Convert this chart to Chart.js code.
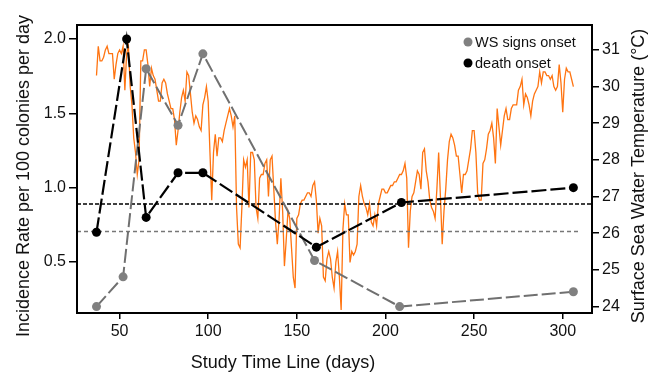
<!DOCTYPE html>
<html>
<head>
<meta charset="utf-8">
<script src="https://cdn.jsdelivr.net/npm/chart.js@4/dist/chart.umd.min.js"></script>
<style>
  html, body { margin: 0; padding: 0; background: #fff; }
</style>
</head>
<body>
<canvas id="wsChart" width="650" height="377"></canvas>
<script>
// incidence points (left axis)
const wsDays = [37, 52, 65, 83, 97, 160, 208, 306];
const wsRate = [0.2, 0.4, 1.8, 1.42, 1.9, 0.51, 0.2, 0.3];
const deathDays = [37, 54, 65, 83, 97, 161, 209, 306];
const deathRate = [0.7, 2.0, 0.8, 1.1, 1.1, 0.6, 0.9, 1.0];

// the two dotted reference levels
const refBlack = 0.89;
const refGray = 0.705;

// daily surface sea water temperature (right axis), one value per day from day 37
const sstStartDay = 37;
const sstValues = [
  30.3, 31.1, 30.7, 30.7, 30.8, 31.0, 31.1, 30.9, 30.9, 30.9,
  30.2, 30.6, 30.9, 31.0, 30.9, 31.1, 29.9, 30.9, 31.1, 30.0,
  29.5, 28.6, 28.2, 27.6, 28.0, 30.7, 30.7, 31.0, 31.0, 30.6,
  30.0, 30.5, 30.3, 30.2, 29.9, 29.6, 29.6, 30.1, 30.2, 30.1,
  29.8, 29.6, 29.4, 29.4, 29.1, 28.4, 28.8, 29.3, 29.7, 29.9,
  29.6, 30.4, 30.3, 29.8, 29.3, 29.0, 29.2, 29.1, 28.9, 28.8,
  29.5, 29.7, 30.0, 29.6, 28.2, 26.9, 28.2, 28.7, 28.1, 28.6,
  28.6, 28.5, 28.8, 29.0, 29.2, 29.4, 29.2, 28.9, 29.2, 26.7,
  25.7, 25.6, 26.7, 28.0, 27.8, 28.0, 26.7, 28.2, 28.2, 28.0,
  26.7, 26.4, 27.5, 27.6, 27.6, 27.9, 28.0, 27.0, 28.0, 28.1,
  27.2, 26.3, 25.7, 26.4, 27.5, 26.6, 25.1, 25.8, 26.6, 26.4,
  25.6, 24.8, 24.5, 26.4, 26.5, 26.8, 26.9, 26.9, 27.0, 27.1,
  27.1, 27.0, 27.3, 27.4, 26.9, 26.0, 26.4, 26.2, 24.8, 24.7,
  25.3, 25.5, 25.3, 24.8, 24.5, 25.2, 25.5, 24.8, 23.9, 26.1,
  26.8, 26.5, 26.5, 25.2, 25.5, 25.4, 25.5, 25.7, 27.0, 27.3,
  27.0, 26.8, 26.7, 26.5, 26.8, 26.3, 26.2, 26.5, 26.2, 26.8,
  27.0, 27.2, 27.2, 27.1, 27.1, 27.2, 27.3, 27.3, 27.4, 27.4,
  27.5, 27.6, 27.6, 27.7, 27.9, 27.5, 25.6, 26.6, 27.0, 27.1,
  27.4, 27.7, 27.6, 27.2, 28.2, 28.3, 27.7, 27.4, 26.9, 26.7,
  26.6, 26.4, 27.2, 28.2, 27.0, 25.7, 26.6, 27.2, 28.0, 28.5,
  28.7, 28.6, 28.4, 28.1, 28.1, 27.6, 27.1, 27.6, 27.6, 27.7,
  28.0, 28.3, 28.8, 28.8, 28.2, 27.1, 26.9, 26.9, 27.9, 28.0,
  28.3, 28.7, 28.8, 29.0, 28.6, 27.9, 29.4, 28.9, 28.4, 28.8,
  29.2, 29.4, 29.1, 29.1, 29.4, 29.5, 29.5, 29.5, 29.9, 30.0,
  30.2, 29.5, 29.8, 29.7, 29.5, 29.2, 29.6, 29.8, 29.9, 30.0,
  30.4, 30.1, 30.4, 30.4, 30.3, 30.3, 30.2, 30.3, 30.0, 29.9,
  30.0, 30.6, 30.1, 29.3, 30.2, 30.5, 30.4, 30.4, 30.2, 30.0
];

const xTicks = [50, 100, 150, 200, 250, 300];
const rateTicks = [0.5, 1.0, 1.5, 2.0];
const tempTicks = [24, 25, 26, 27, 28, 29, 30, 31];

const FONT = '"Liberation Sans", Arial, sans-serif';

const toPoints = (xs, ys) => xs.map((x, i) => ({ x: x, y: ys[i] }));
const sstPoints = sstValues.map((t, i) => ({ x: sstStartDay + i, y: t }));

// frame, axis titles and the little legend
const decorations = {
  id: "decorations",
  afterDraw(chart) {
    const { ctx, chartArea: a } = chart;
    ctx.save();
    ctx.strokeStyle = "#000";
    ctx.lineWidth = 2;
    ctx.strokeRect(a.left, a.top, a.right - a.left, a.bottom - a.top);

    ctx.fillStyle = "#111";
    ctx.font = "18px " + FONT;
    ctx.textAlign = "center";
    ctx.textBaseline = "middle";
    ctx.fillText("Study Time Line (days)", 283, 363);

    ctx.save();
    ctx.translate(24, 176);
    ctx.rotate(-Math.PI / 2);
    ctx.fillText("Incidence Rate per 100 colonies per day", 0, 0);
    ctx.restore();

    ctx.save();
    ctx.translate(639, 176);
    ctx.rotate(-Math.PI / 2);
    ctx.fillText("Surface Sea Water Temperature (\u00B0C)", 0, 0);
    ctx.restore();

    const items = [
      { label: "WS signs onset", color: "#808080", y: 42 },
      { label: "death onset", color: "#000", y: 63 },
    ];
    ctx.font = "14.5px " + FONT;
    ctx.textAlign = "left";
    items.forEach((it) => {
      ctx.fillStyle = it.color;
      ctx.beginPath();
      ctx.arc(468, it.y, 4.5, 0, Math.PI * 2);
      ctx.fill();
      ctx.fillStyle = "#111";
      ctx.fillText(it.label, 475, it.y + 0.5);
    });
    ctx.restore();
  },
};

const tickGrid = { display: true, drawOnChartArea: false, drawTicks: true, color: "#000", lineWidth: 1.5 };

new Chart(document.getElementById("wsChart"), {
  type: "line",
  data: {
    datasets: [
      {
        label: "death onset",
        data: toPoints(deathDays, deathRate),
        yAxisID: "y",
        borderColor: "#000",
        backgroundColor: "#000",
        borderWidth: 2.2,
        borderDash: [15, 4],
        pointRadius: 4.5,
        pointBorderWidth: 0,
        tension: 0,
      },
      {
        label: "WS signs onset",
        data: toPoints(wsDays, wsRate),
        yAxisID: "y",
        borderColor: "#707070",
        backgroundColor: "#808080",
        borderWidth: 2,
        borderDash: [14, 4],
        pointRadius: 4.5,
        pointBorderWidth: 0,
        tension: 0,
      },
      {
        label: "ref black",
        data: toPoints([26, 316], [refBlack, refBlack]),
        yAxisID: "y",
        borderColor: "#000",
        borderWidth: 1.6,
        borderDash: [4, 2],
        pointRadius: 0,
      },
      {
        label: "ref gray",
        data: toPoints([26, 310], [refGray, refGray]),
        yAxisID: "y",
        borderColor: "#777",
        borderWidth: 1.3,
        borderDash: [4, 3],
        pointRadius: 0,
      },
      {
        label: "SST",
        data: sstPoints,
        yAxisID: "y2",
        borderColor: "#ff7411",
        borderWidth: 1.3,
        pointRadius: 0,
        tension: 0,
      },
    ],
  },
  options: {
    responsive: false,
    animation: false,
    devicePixelRatio: 1,
    layout: { padding: { top: 25, left: 0, right: 0, bottom: 0 } },
    plugins: {
      legend: { display: false },
      tooltip: { enabled: false },
    },
    scales: {
      x: {
        type: "linear",
        min: 26,
        max: 316.5,
        border: { display: false },
        grid: { ...tickGrid, tickLength: 6 },
        afterBuildTicks: (s) => { s.ticks = xTicks.map((v) => ({ value: v })); },
        afterFit: (s) => { s.height = 64; },
        ticks: { color: "#111", font: { family: FONT, size: 16 }, padding: 3, maxRotation: 0 },
      },
      y: {
        type: "linear",
        position: "left",
        min: 0.157,
        max: 2.094,
        border: { display: false },
        grid: { ...tickGrid, tickLength: 8 },
        afterBuildTicks: (s) => { s.ticks = rateTicks.map((v) => ({ value: v })); },
        afterFit: (s) => { s.width = 77; },
        ticks: {
          color: "#111",
          font: { family: FONT, size: 16 },
          padding: 3,
          callback: (v) => Number(v).toFixed(1),
        },
      },
      y2: {
        type: "linear",
        position: "right",
        min: 23.82,
        max: 31.68,
        border: { display: false },
        grid: { ...tickGrid, tickLength: 7 },
        afterBuildTicks: (s) => { s.ticks = tempTicks.map((v) => ({ value: v })); },
        afterFit: (s) => { s.width = 58; },
        ticks: { color: "#111", font: { family: FONT, size: 16 }, padding: 3 },
      },
    },
  },
  plugins: [decorations],
});
</script>
</body>
</html>
